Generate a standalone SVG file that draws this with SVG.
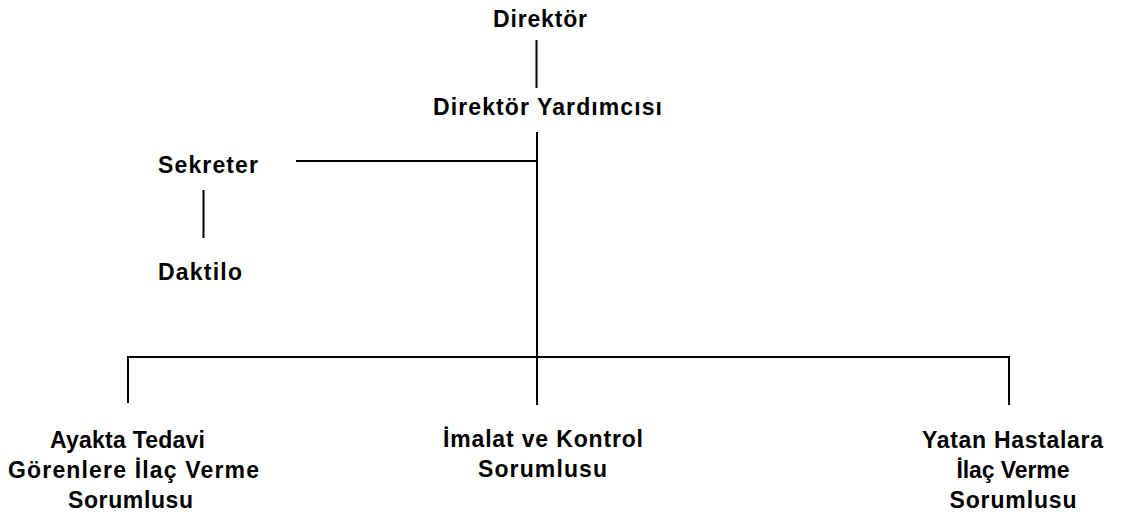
<svg xmlns="http://www.w3.org/2000/svg" width="1125" height="518" viewBox="0 0 1125 518">
<style>
  text { font-family: "Liberation Sans", Arial, sans-serif; font-weight: bold; font-size: 23px; fill: #000; text-anchor: middle; }
  .conn line { stroke: #000; stroke-width: 2; stroke-linecap: butt; }
</style>
<rect width="1125" height="518" fill="#fff"/>
<g class="conn" id="connectors">
  <line x1="536.5" y1="40" x2="536.5" y2="88"/>
  <line x1="537" y1="132" x2="537" y2="405"/>
  <line x1="296" y1="161" x2="538" y2="161"/>
  <line x1="203.5" y1="190" x2="203.5" y2="238"/>
  <line x1="127" y1="357" x2="1010" y2="357"/>
  <line x1="128" y1="356" x2="128" y2="403"/>
  <line x1="1009" y1="356" x2="1009" y2="405"/>
</g>
<g id="direktor"><text x="540" y="27" textLength="94" lengthAdjust="spacing">Direktör</text></g>
<g id="direktor-yardimcisi"><text x="547.5" y="115" textLength="229" lengthAdjust="spacing">Direktör Yardımcısı</text></g>
<g id="sekreter"><text x="208" y="173" textLength="100" lengthAdjust="spacing">Sekreter</text></g>
<g id="daktilo"><text x="200" y="280" textLength="84" lengthAdjust="spacing">Daktilo</text></g>
<g id="ayakta">
  <text x="127.5" y="448" textLength="155" lengthAdjust="spacing">Ayakta Tedavi</text>
  <text x="133.5" y="478" textLength="251" lengthAdjust="spacing">Görenlere İlaç Verme</text>
  <text x="130.5" y="508" textLength="125" lengthAdjust="spacing">Sorumlusu</text>
</g>
<g id="imalat">
  <text x="543" y="447" textLength="200" lengthAdjust="spacing">İmalat ve Kontrol</text>
  <text x="542.5" y="477" textLength="129" lengthAdjust="spacing">Sorumlusu</text>
</g>
<g id="yatan">
  <text x="1012.5" y="448" textLength="181" lengthAdjust="spacing">Yatan Hastalara</text>
  <text x="1013" y="478" textLength="113" lengthAdjust="spacing">İlaç Verme</text>
  <text x="1013" y="508" textLength="127" lengthAdjust="spacing">Sorumlusu</text>
</g>
</svg>
